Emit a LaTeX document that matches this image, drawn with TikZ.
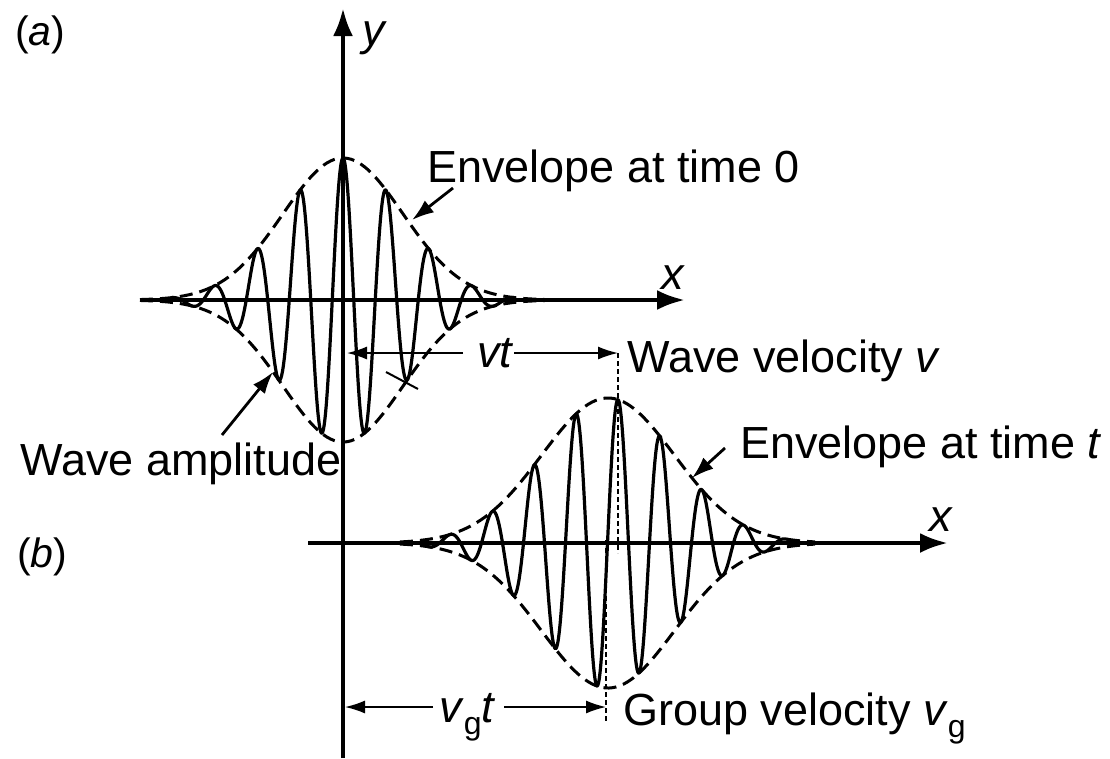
\documentclass[tikz,border=0pt]{standalone}
\usepackage{fontspec}
\setmainfont{Liberation Sans}
\usetikzlibrary{arrows.meta}
\newcommand{\bigtxt}{\fontsize{45}{52}\selectfont}
\newcommand{\midtxt}{\fontsize{41}{48}\selectfont}
\newcommand{\subg}{\raisebox{-0.28em}{\fontsize{32}{32}\selectfont g}}
\tikzset{
  axisline/.style={line width=4.5pt,-{Latex[length=28pt,width=20pt]}},
  waveline/.style={line width=3.2pt,line join=round},
  envline/.style={line width=3pt,dash pattern=on 13pt off 7pt},
  dimline/.style={line width=1.6pt,-{Latex[length=20pt,width=13pt]}},
  guideline/.style={line width=2.2pt,dash pattern=on 5pt off 3pt},
  callout/.style={line width=2.8pt,-{Latex[length=22pt,width=15pt]}},
  lbl/.style={inner sep=0pt,anchor=base west,font=\bigtxt},
}
\begin{document}
\begin{tikzpicture}[x=1pt,y=-1pt]
\useasboundingbox (0,0) rectangle (1110,758);
% ---------- top packet (a) ----------
\draw[envline] plot[domain=140:545,samples=120,smooth] (\x,{300-142*exp(-(((\x-343)/100)^2)/0.72)});
\draw[envline] plot[domain=140:545,samples=120,smooth] (\x,{300+142*exp(-(((\x-343)/100)^2)/0.72)});
\draw[waveline] plot[domain=172:514,samples=500,smooth] (\x,{300-142*exp(-(((\x-343)/100)^2)/0.72)*cos((\x-343)*8.3721)});
% ---------- bottom packet (b) ----------
\draw[envline] plot[domain=400:815,samples=120,smooth] (\x,{543-145*exp(-(((\x-608)/100)^2)/0.88)});
\draw[envline] plot[domain=400:815,samples=120,smooth] (\x,{543+145*exp(-(((\x-608)/100)^2)/0.88)});
\draw[waveline] plot[domain=425:795,samples=500,smooth] (\x,{543-145*exp(-(((\x-608)/100)^2)/0.88)*cos((\x-618)*8.5714)});
% ---------- axes ----------
\coordinate (yb) at (343,758);
\coordinate (yt) at (343,8);
\coordinate (xa0) at (140,300);
\coordinate (xa1) at (685,300);
\coordinate (xb0) at (308,543);
\coordinate (xb1) at (948,543);
\draw[axisline] (yb) -- (yt);
\draw[axisline] (xa0) -- (xa1);
\draw[axisline] (xb0) -- (xb1);
% ---------- labels ----------
\node[lbl,font=\midtxt] (la) at (15,45) {(\textit{a})};
\node[lbl,font=\midtxt] (lb) at (17,567) {(\textit{b})};
\node[lbl] (ly) at (362,45) {\textit{y}};
\node[lbl] (lxa) at (661,289) {\textit{x}};
\node[lbl] (lxb) at (929,531) {\textit{x}};
\node[lbl] (env0) at (427,182) {Envelope at time 0};
\node[lbl] (envt) at (740,458) {Envelope at time \textit{t}};
\node[lbl] (wamp) at (20,475) {Wave amplitude};
\node[lbl] (wvel) at (627,372) {Wave velocity \textit{v}};
\node[lbl] (gvel) at (623,725) {Group velocity \textit{v}\subg};
\node[lbl] (vt) at (477,367) {\textit{vt}};
\node[lbl] (vgt) at (439,722) {\textit{v}\subg\textit{t}};
% ---------- vt dimension ----------
\coordinate (vtA) at (347,353);
\coordinate (vtL) at (463,353);
\coordinate (vtR) at (514,353);
\coordinate (vtB) at (618,353);
\coordinate (vtC) at (618,553);
\draw[dimline] (vtL) -- (vtA);
\draw[dimline] (vtR) -- (vtB);
\draw[guideline] (vtB) -- (vtC);
% ---------- vg t dimension ----------
\coordinate (gA) at (345,707);
\coordinate (gL) at (433,707);
\coordinate (gR) at (504,707);
\coordinate (gB) at (606,707);
\coordinate (gT) at (606,540);
\coordinate (gD) at (606,722);
\draw[dimline] (gL) -- (gA);
\draw[dimline] (gR) -- (gB);
\draw[guideline] (gT) -- (gD);
% ---------- callouts ----------
\coordinate (c1a) at (222,435);
\coordinate (c1b) at (273,372);
\draw[callout] (c1a) -- (c1b);
\coordinate (c2a) at (453,188);
\coordinate (c2b) at (412,220);
\draw[callout] (c2a) -- (c2b);
\coordinate (c3a) at (725,448);
\coordinate (c3b) at (692,478);
\draw[callout] (c3a) -- (c3b);
\coordinate (tk1) at (386,372);
\coordinate (tk2) at (418,389);
\draw[line width=2pt] (tk1) -- (tk2);
\end{tikzpicture}
\end{document}
